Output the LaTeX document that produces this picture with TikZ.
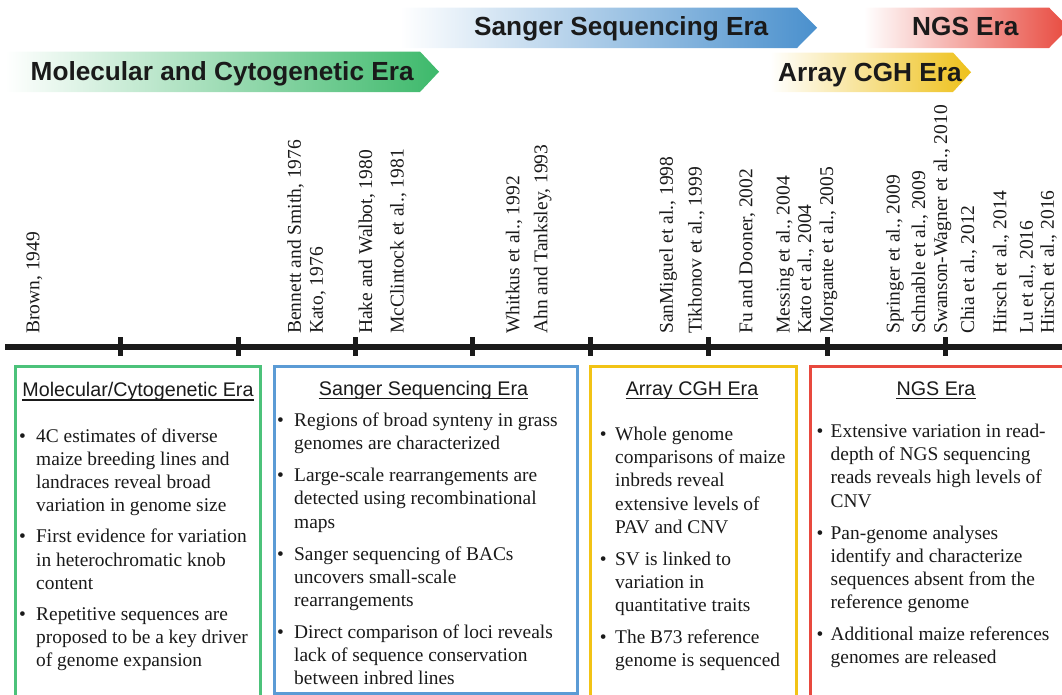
\documentclass[tikz,border=0pt]{standalone}
\usepackage{fontspec}
\setmainfont{Liberation Serif}
\newfontfamily\arialf{Liberation Sans}
\definecolor{txt}{HTML}{1A1A1A}
\definecolor{gBorder}{HTML}{4CC27A}
\definecolor{gBan}{HTML}{3DB96B}
\definecolor{bBorder}{HTML}{5B9BD5}
\definecolor{bBan}{HTML}{4A90CD}
\definecolor{yBorder}{HTML}{F2C315}
\definecolor{yBan}{HTML}{EEC11A}
\definecolor{rBorder}{HTML}{E8493E}
\definecolor{rBan}{HTML}{E84A3F}
\newcommand\blist[5]{%
  \node[body] (#1) at (#2,#4) {\textbullet};
  \foreach \ltxt [count=\i from 0] in {#5} {\node[body] (#1-\i) at (#3,#4+\i*23.2) {\ltxt};}
}
\begin{document}
\begin{tikzpicture}[x=1pt,y=-1pt,
  bantext/.style={font=\arialf\bfseries\fontsize{26.2}{30}\selectfont, anchor=base west, inner sep=0, text=txt},
  reflabel/.style={font=\fontsize{19.5}{22}\selectfont, rotate=90, anchor=mid west, inner sep=0, text=txt},
  head/.style={font=\arialf\fontsize{19.7}{23}\selectfont, anchor=base, inner sep=0, text=txt},
  body/.style={font=\fontsize{19.4}{23.2}\selectfont, anchor=base west, inner sep=0, text=txt},
  ebox/.style={line width=3pt, anchor=north west, inner sep=0, fill=white},
  ul/.style={line width=1.3pt, txt},
  tick/.style={line width=5pt, txt},
]
\useasboundingbox (0,0) rectangle (1062,694);
\clip (0,0) rectangle (1062,694);

% era banners
\shade[left color=white, right color=bBan] (400,7.5) -- (797,7.5) -- (817,27.75) -- (797,48) -- (400,48) -- cycle;
\shade[left color=white, right color=rBan] (864,7.5) -- (1049,7.5) -- (1069,27.75) -- (1049,48) -- (864,48) -- cycle;
\shade[left color=white, right color=gBan] (5,51.5) -- (420,51.5) -- (439,71.75) -- (420,92) -- (5,92) -- cycle;
\shade[left color=white, right color=yBan] (770,52.5) -- (953,52.5) -- (971,72.25) -- (953,92) -- (770,92) -- cycle;
\node[bantext] (bS) at (474,35.5) {Sanger Sequencing Era};
\node[bantext] (bN) at (912,35.5) {NGS Era};
\node[bantext] (bM) at (30.5,80.5) {Molecular and Cytogenetic Era};
\node[bantext] (bA) at (778,81) {Array CGH Era};

% references
\foreach \x/\t/\n in {37/{Brown, 1949}/r1, 298.7/{Bennett and Smith, 1976}/r2,
  320.7/{Kato, 1976}/r3, 369.8/{Hake and Walbot, 1980}/r4, 401.3/{McClintock et al., 1981}/r5,
  517/{Whitkus et al., 1992}/r6, 545/{Ahn and Tanksley, 1993}/r7, 670.5/{SanMiguel et al., 1998}/r8,
  699.3/{Tikhonov et al., 1999}/r9, 750/{Fu and Dooner, 2002}/r10, 787.3/{Messing et al., 2004}/r11,
  808.7/{Kato et al., 2004}/r12, 830.7/{Morgante et al., 2005}/r13, 897.4/{Springer et al., 2009}/r14,
  922.8/{Schnable et al., 2009}/r15, 944.8/{Swanson-Wagner et al., 2010}/r16, 971.9/{Chia et al., 2012}/r17,
  1004/{Hirsch et al., 2014}/r18, 1030.5/{Lu et al., 2016}/r19, 1051.5/{Hirsch et al., 2016}/r20}
  {\node[reflabel] (\n) at (\x,334) {\t};}

% timeline
\coordinate (tlA) at (5,346.5);
\coordinate (tlB) at (1062,346.5);
\draw[line width=6pt, txt] (tlA) -- (tlB);
\foreach \x in {120.5,238,355.5,472.5,590,708,827,945.5}
  \draw[tick] (\x,337) -- (\x,355.5);

% era boxes
\node[ebox, draw=gBorder, minimum width=245pt, minimum height=345pt] (box1) at (14.3,365.3) {};
\node[ebox, draw=bBorder, minimum width=302.4pt, minimum height=327pt] (box2) at (273.3,364.7) {};
\node[ebox, draw=yBorder, minimum width=205.7pt, minimum height=345pt] (box3) at (589.3,365) {};
\node[ebox, draw=rBorder, minimum width=252.4pt, minimum height=345pt] (box4) at (809.3,365) {};

% headings
\node[head] (h1) at (138,396.5) {Molecular/Cytogenetic Era};
\node[head] (h2) at (423.5,395) {Sanger Sequencing Era};
\node[head] (h3) at (692,395) {Array CGH Era};
\node[head] (h4) at (936,395) {NGS Era};
\foreach \h in {h1,h2,h3,h4}
  \draw[ul] ([yshift=-3.4pt]\h.base west) -- ([yshift=-3.4pt]\h.base east);

% box 1
\blist{b1a}{19}{36}{442}{4C estimates of diverse, maize breeding lines and, landraces reveal broad, variation in genome size}
\blist{b1b}{19}{36}{542.8}{First evidence for variation, in heterochromatic knob, content}
\blist{b1c}{19}{36}{620.5}{Repetitive sequences are, proposed to be a key driver, of genome expansion}
% box 2
\blist{b2a}{277}{294}{426.7}{Regions of broad synteny in grass, genomes are characterized}
\blist{b2b}{277}{294}{481.7}{Large-scale rearrangements are, detected using recombinational, maps}
\blist{b2c}{277}{294}{560}{Sanger sequencing of BACs, uncovers small-scale, rearrangements}
\blist{b2d}{277}{294}{638.3}{Direct comparison of loci reveals, lack of sequence conservation, between inbred lines}
% box 3
\blist{b3a}{599.6}{615}{440.5}{Whole genome, comparisons of maize, inbreds reveal, extensive levels of, PAV and CNV}
\blist{b3b}{599.6}{615}{565}{SV is linked to, variation in, quantitative traits}
\blist{b3c}{599.6}{615}{643.5}{The B73 reference, genome is sequenced}
% box 4
\blist{b4a}{816.3}{830.5}{437.5}{Extensive variation in read-, depth of NGS sequencing, reads reveals high levels of, CNV}
\blist{b4b}{816.3}{830.5}{539}{Pan-genome analyses, identify and characterize, sequences absent from the, reference genome}
\blist{b4c}{816.3}{830.5}{640.5}{Additional maize references, genomes are released}
\end{tikzpicture}
\end{document}
